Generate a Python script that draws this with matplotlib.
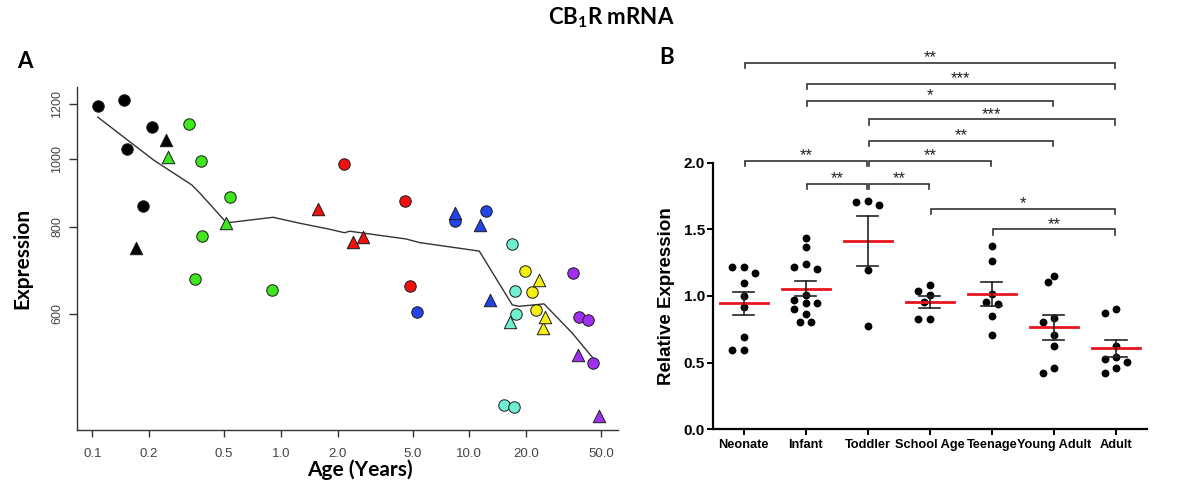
import numpy as np
import matplotlib
matplotlib.use("Agg")
import matplotlib.pyplot as plt

plt.rcParams['font.family'] = ['Liberation Sans', 'DejaVu Sans']
plt.rcParams['mathtext.fontset'] = 'custom'
plt.rcParams['mathtext.rm'] = 'Lato'
plt.rcParams['mathtext.bf'] = 'Lato:bold'

# ---------------- Panel A data (age in years, expression) ----------------
black_c_age = [0.107, 0.148, 0.152, 0.185, 0.207]
black_c_expr = [1191, 1216, 1032, 856, 1112]
black_t_age = [0.170, 0.245]
black_t_expr = [746, 1065]
green_c_age = [0.325, 0.351, 0.379, 0.382, 0.539, 0.90]
green_c_expr = [1122, 672, 993, 776, 881, 650]
green_t_age = [0.252, 0.512]
green_t_expr = [1006, 810]
red_c_age = [2.17, 4.58, 4.83]
red_c_expr = [983, 871, 658]
red_t_age = [1.57, 2.42, 2.72]
red_t_expr = [847, 761, 773]
blue_c_age = [5.31, 8.43, 12.3]
blue_c_expr = [603, 815, 842]
blue_t_age = [8.43, 11.4, 12.9]
blue_t_expr = [836, 805, 629]
cyan_c_age = [15.3, 16.8, 17.2, 17.5, 17.7]
cyan_c_expr = [444, 756, 441, 648, 599]
cyan_t_age = [16.5]
cyan_t_expr = [584]
yellow_c_age = [19.8, 21.5, 22.6]
yellow_c_expr = [690, 645, 608]
yellow_t_age = [23.5, 24.7, 25.1]
yellow_t_expr = [670, 572, 594]
purple_c_age = [35.5, 38.0, 42.5, 45.5]
purple_c_expr = [687, 593, 588, 511]
purple_t_age = [37.9, 48.7]
purple_t_expr = [523, 428]

# smoothed trend line
trend_age = [0.107, 0.211, 0.337, 0.373, 0.516, 0.91, 1.26, 1.82, 2.18, 2.32,
             4.63, 5.44, 11.3, 16.3, 16.9, 18.4, 24.9, 35.2, 44.9]
trend_expr = [1148, 997, 918, 893, 810, 825, 809, 793, 784, 788,
              768, 759, 738, 628, 618, 615, 620, 563, 520]

xticks_A = [0.1, 0.2, 0.5, 1.0, 2.0, 5.0, 10.0, 20.0, 50.0]
xticklabels_A = ["0.1", "0.2", "0.5", "1.0", "2.0", "5.0", "10.0", "20.0", "50.0"]
yticks_A = [600, 800, 1000, 1200]

# ---------------- Panel B data ----------------
categories = ["Neonate", "Infant", "Toddler", "School Age", "Teenage", "Young Adult", "Adult"]
neonate = [1.22, 1.215, 1.175, 1.10, 1.00, 0.92, 0.695, 0.595, 0.595]
infant = [1.433, 1.365, 1.24, 1.22, 1.2025, 1.01, 0.97, 0.945, 0.945, 0.905, 0.865, 0.807, 0.807]
toddler = [1.715, 1.7075, 1.683, 1.195, 0.777]
school_age = [1.0825, 1.04, 1.005, 0.957, 0.825, 0.825]
teenage = [1.375, 1.265, 1.0125, 0.955, 0.94, 0.85, 0.708]
young_adult = [1.15, 1.1025, 0.8325, 0.807, 0.708, 0.625, 0.462, 0.425]
adult = [0.9025, 0.875, 0.625, 0.545, 0.525, 0.507, 0.4575, 0.425]

# significance brackets
br_from = [0, 1, 1, 2, 2, 0, 2, 1, 2, 3, 4]
br_to = [6, 6, 5, 6, 5, 2, 4, 2, 3, 6, 6]
br_height = [2.75, 2.593, 2.463, 2.326, 2.165, 2.015, 2.015, 1.842, 1.842, 1.653, 1.50]
br_label = ["**", "***", "*", "***", "**", "**", "**", "**", "**", "*", "**"]

yticks_B = [0.0, 0.5, 1.0, 1.5, 2.0]

# ---------------- Figure ----------------
W, H = 1200, 494
fig = plt.figure(figsize=(W / 100, H / 100), dpi=100)

# Panel A
axA = fig.add_axes([77 / W, 1 - 430 / H, (618 - 77) / W, (430 - 87) / H])
groupsA = [
    ("black", black_c_age, black_c_expr, black_t_age, black_t_expr),
    ("#3fe51f", green_c_age, green_c_expr, green_t_age, green_t_expr),
    ("#f01010", red_c_age, red_c_expr, red_t_age, red_t_expr),
    ("#2244e8", blue_c_age, blue_c_expr, blue_t_age, blue_t_expr),
    ("#70f0d0", cyan_c_age, cyan_c_expr, cyan_t_age, cyan_t_expr),
    ("#f5f010", yellow_c_age, yellow_c_expr, yellow_t_age, yellow_t_expr),
    ("#a030f0", purple_c_age, purple_c_expr, purple_t_age, purple_t_expr),
]
axA.plot(trend_age, trend_expr, color="#333333", lw=1.0, zorder=2)
for col, ca, ce, ta, te in groupsA:
    axA.scatter(ca, ce, s=68, marker="o", facecolor=col, edgecolor="#1a1a1a", linewidth=0.7, zorder=3)
    axA.scatter(ta, te, s=80, marker="^", facecolor=col, edgecolor="#1a1a1a", linewidth=0.7, zorder=3)
axA.set_xscale("log")
axA.set_yscale("log")
axA.set_xlim(0.083, 61.5)
axA.set_ylim(409, 1268)
axA.set_xticks(xticks_A)
axA.set_xticklabels(xticklabels_A)
axA.set_yticks(yticks_A)
axA.set_yticklabels([str(v) for v in yticks_A], rotation=90, va="center")
axA.minorticks_off()
axA.tick_params(axis="both", colors="#333333", labelcolor="#444444", width=1.0)
axA.tick_params(axis="x", length=5, pad=8, labelsize=9.5)
axA.tick_params(axis="y", length=6, pad=4, labelsize=9)
for s in ["top", "right"]:
    axA.spines[s].set_visible(False)
for s in ["left", "bottom"]:
    axA.spines[s].set_color("#333333")
    axA.spines[s].set_linewidth(1.0)

fig.text(360 / W, 1 - 470 / H, "Age (Years)", family="Lato", weight="bold", fontsize=15,
         ha="center", va="center")
fig.text(22 / W, 1 - 258 / H, "Expression", family="Lato", weight="bold", fontsize=15,
         ha="center", va="center", rotation=90)
fig.text(25 / W, 1 - 62 / H, "A", family="Lato", weight="bold", fontsize=16, ha="center", va="center")
fig.text(667 / W, 1 - 58 / H, "B", family="Lato", weight="bold", fontsize=16, ha="center", va="center")
fig.text(611 / W, 1 - 18 / H, r"CB$_\mathbf{1}$R mRNA", family="Lato", weight="bold", fontsize=16,
         ha="center", va="center")

# Panel B
bx0, bx1, by0, by1 = 712.7, 1147, 429.3, 42.7
axB = fig.add_axes([bx0 / W, 1 - by0 / H, (bx1 - bx0) / W, (by0 - by1) / H])
ymaxB = 2.9
axB.set_xlim(-0.5, 6.5)
axB.set_ylim(0, ymaxB)
px_cat = (bx1 - bx0) / 7.0
px_unit = (by0 - by1) / ymaxB


def swarm(vals, step=0.092, thresh=8.5):
    placed = []
    offs = [0.0] * len(vals)
    order = np.argsort(-np.asarray(vals), kind="stable")
    cands = [0] + [s * k for k in range(1, 10) for s in (-1, 1)]
    for i in order:
        v = vals[i]
        o = 0.0
        for c in cands:
            o = c * step
            if all(((o - po) * px_cat) ** 2 + ((v - pv) * px_unit) ** 2 >= thresh ** 2
                   for po, pv in placed):
                break
        offs[i] = o
        placed.append((o, v))
    return offs


groupsB = [neonate, infant, toddler, school_age, teenage, young_adult, adult]
for i, vals in enumerate(groupsB):
    v = np.asarray(vals)
    offs = swarm(vals)
    axB.scatter(i + np.asarray(offs), v, s=32, color="black", zorder=3, linewidth=0)
    m = v.mean()
    sem = v.std(ddof=1) / np.sqrt(len(v))
    axB.plot([i - 0.39, i + 0.39], [m, m], color="#e8141e", lw=2.0, zorder=4)
    axB.plot([i, i], [m - sem, m + sem], color="#222222", lw=1.2, zorder=4)
    axB.plot([i - 0.17, i + 0.17], [m + sem, m + sem], color="#222222", lw=1.2, zorder=4)
    axB.plot([i - 0.17, i + 0.17], [m - sem, m - sem], color="#222222", lw=1.2, zorder=4)

leg = 0.04
for a, b, h, lab in zip(br_from, br_to, br_height, br_label):
    xa, xb = a + 0.02, b - 0.02
    axB.plot([xa, xa, xb, xb], [h - leg, h, h, h - leg], color="#333333", lw=1.2,
             clip_on=False, solid_joinstyle="miter")
    axB.text((a + b) / 2, h + 0.004, lab, ha="center", va="baseline", fontsize=12, color="#222222")

axB.set_xticks(range(len(categories)))
axB.set_xticklabels(categories, fontsize=9.2, fontweight="bold")
axB.set_yticks(yticks_B)
axB.set_yticklabels(["%.1f" % v for v in yticks_B], fontsize=11, fontweight="bold")
axB.tick_params(axis="x", length=4, width=1.4, pad=3)
axB.tick_params(axis="y", length=4, width=1.4, pad=1.5)
for s in ["top", "right"]:
    axB.spines[s].set_visible(False)
axB.spines["left"].set_bounds(0, 2.0)
axB.spines["left"].set_linewidth(1.6)
axB.spines["bottom"].set_linewidth(1.6)
fig.text(666 / W, 1 - 296 / H, "Relative Expression", fontsize=13.5, fontweight="bold",
         ha="center", va="center", rotation=90)

fig.savefig("out.png", dpi=100)
